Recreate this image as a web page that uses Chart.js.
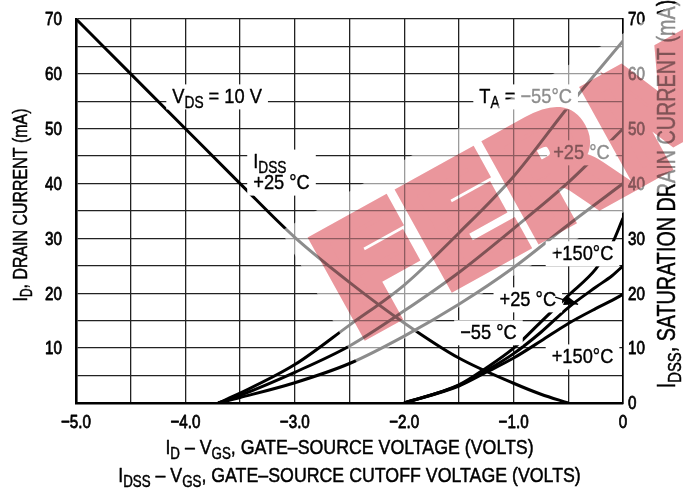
<!DOCTYPE html>
<html>
<head>
<meta charset="utf-8">
<script src="https://cdn.jsdelivr.net/npm/chart.js@4.4.1/dist/chart.umd.min.js"></script>
<style>
  html, body { margin: 0; background: #fff; }
</style>
</head>
<body>
<canvas id="chart" width="683" height="498"></canvas>
<script>
const FONT = '"Liberation Sans", Arial, sans-serif';

// I_DSS vs V_GS(off) at +25 C
const idssVgs = [-5.0, -4.5, -4.0, -3.5, -3.0, -2.5, -2.0, -1.5, -1.0, -0.75, -0.5];
const idssMa  = [70, 60, 50, 40, 30.2, 22, 14.6, 8.2, 3.6, 1.6, 0];

// I_D vs V_GS, device with V_GS(off) = -3.7 V
const hiVgs   = [-3.7, -3.5, -3.0, -2.5, -2.0, -1.5, -1.0, -0.5, 0];
const hiM55   = [0, 1.8, 7.0, 14.2, 21.5, 31.0, 41.3, 54.0, 66.0];
const hiP25   = [0, 1.4, 5.6, 10.4, 16.8, 23.8, 31.8, 40.2, 50.0];
const hiP150  = [0, 1.0, 3.7, 7.2, 12.2, 18.0, 24.7, 32.5, 40.0];

// I_D vs V_GS, device with V_GS(off) = -2.0 V
const loVgs   = [-2.0, -1.5, -1.25, -1.0, -0.75, -0.5, -0.25, -0.1, 0];
const loM55   = [0, 3.3, 6.4, 10.0, 14.8, 19.6, 24.4, 29.0, 33.7];
const loP25   = [0, 3.2, 5.9, 9.0, 12.9, 17.4, 21.1, 23.2, 25.0];
const loP150  = [0, 3.1, 5.6, 8.2, 11.3, 14.5, 17.2, 18.7, 19.8];

// tick labels
const xTickVals   = [-5, -4, -3, -2, -1, 0];
const xTickLabels = ['\u22125.0', '\u22124.0', '\u22123.0', '\u22122.0', '\u22121.0', '0'];
const yTickVals   = [0, 10, 20, 30, 40, 50, 60, 70];

const pts = (xs, ys) => xs.map((x, i) => ({ x: x, y: ys[i] }));

// text notes on the plot: [text, isSubscript] parts per line
const notes = [
  { x: -3.71, y: 55.8, align: 'center', lines: [[['V', 0], ['DS', 1], [' = 10 V', 0]]] },
  { x: -3.38, y: 42.0, align: 'left', lines: [[['I', 0], ['DSS', 1]], [['+25 \u00B0C', 0]]] },
  { x: -0.89, y: 55.8, align: 'center', lines: [[['T', 0], ['A', 1], [' = \u221255\u00B0C', 0]]] },
  { x: -0.38, y: 45.6, align: 'center', lines: [[['+25 \u00B0C', 0]]] },
  { x: -0.37, y: 27.2, align: 'center', lines: [[['+150\u00B0C', 0]]] },
  { x: -0.87, y: 18.8, align: 'center', lines: [[['+25 \u00B0C', 0]]] },
  { x: -1.23, y: 12.8, align: 'center', lines: [[['\u221255 \u00B0C', 0]]] },
  { x: -0.37, y: 8.4, align: 'center', lines: [[['+150\u00B0C', 0]]] }
];

const NOTE_SIZE = 21;
const NOTE_SX = 0.87;

function partsWidth(ctx, parts, size, sx) {
  let w = 0;
  parts.forEach(([t, sub]) => {
    ctx.font = (sub ? size * 0.75 : size) + 'px ' + FONT;
    w += ctx.measureText(t).width;
  });
  return w * sx;
}

// draws text runs with subscripts, squeezed horizontally by sx and slightly emboldened
function drawParts(ctx, parts, x, y, size, sx, bold) {
  ctx.save();
  ctx.translate(x, y);
  ctx.scale(sx, 1);
  ctx.textAlign = 'left';
  ctx.textBaseline = 'middle';
  ctx.strokeStyle = ctx.fillStyle;
  ctx.lineWidth = bold || 0.5;
  ctx.lineJoin = 'round';
  let cx = 0;
  parts.forEach(([t, sub]) => {
    ctx.font = (sub ? size * 0.75 : size) + 'px ' + FONT;
    const ty = sub ? size * 0.3 : 0;
    ctx.fillText(t, cx, ty);
    ctx.strokeText(t, cx, ty);
    cx += ctx.measureText(t).width;
  });
  ctx.restore();
}

const notesPlugin = {
  id: 'notes',
  afterDatasetsDraw(chart) {
    const ctx = chart.ctx;
    const xs = chart.scales.x, ys = chart.scales.y;
    ctx.save();
    notes.forEach(n => {
      const px = xs.getPixelForValue(n.x);
      const py = ys.getPixelForValue(n.y);
      const lh = NOTE_SIZE;
      const widths = n.lines.map(l => partsWidth(ctx, l, NOTE_SIZE, NOTE_SX));
      const wMax = Math.max(...widths);
      const h = lh * n.lines.length;
      const left = n.align === 'left' ? px : px - wMax / 2;
      ctx.fillStyle = '#fff';
      ctx.fillRect(left - 6, py - h / 2 - 2, wMax + 12, h + 4);
      ctx.fillStyle = '#000';
      n.lines.forEach((l, i) => {
        const lx = n.align === 'left' ? px : px - widths[i] / 2;
        drawParts(ctx, l, lx, py - h / 2 + lh * (i + 0.5), NOTE_SIZE, NOTE_SX, 0.4);
      });
    });

    // leader arrow from the lower "+25 C" note to its curve
    const a0x = xs.getPixelForValue(-0.62), a0y = ys.getPixelForValue(19.3);
    const a1x = xs.getPixelForValue(-0.41), a1y = ys.getPixelForValue(18.0);
    const ang = Math.atan2(a1y - a0y, a1x - a0x);
    ctx.strokeStyle = '#000';
    ctx.lineWidth = 1.3;
    ctx.beginPath();
    ctx.moveTo(a0x, a0y);
    ctx.lineTo(a1x, a1y);
    ctx.stroke();
    ctx.beginPath();
    ctx.moveTo(a1x, a1y);
    ctx.lineTo(a1x - 15 * Math.cos(ang - 0.35), a1y - 15 * Math.sin(ang - 0.35));
    ctx.lineTo(a1x - 15 * Math.cos(ang + 0.35), a1y - 15 * Math.sin(ang + 0.35));
    ctx.closePath();
    ctx.fillStyle = '#000';
    ctx.fill();
    ctx.restore();
  },
  afterDraw(chart) {
    const ctx = chart.ctx;
    const area = chart.chartArea;
    const xs = chart.scales.x, ys = chart.scales.y;
    const cx = (area.left + area.right) / 2;
    ctx.save();
    ctx.fillStyle = '#000';

    // tick labels
    const TS = 19, TSX = 0.8;
    xTickVals.forEach((v, i) => {
      const p = [[xTickLabels[i], 0]];
      const w = partsWidth(ctx, p, TS, TSX);
      drawParts(ctx, p, xs.getPixelForValue(v) - w / 2, area.bottom + 20, TS, TSX, 0.8);
    });
    yTickVals.forEach(v => {
      const p = [[String(v), 0]];
      const py = ys.getPixelForValue(v) + 1;
      if (v !== 0) {
        drawParts(ctx, p, area.left - 14 - partsWidth(ctx, p, TS, TSX), py, TS, TSX, 0.8);
      }
      drawParts(ctx, p, area.right + 5, py, TS, TSX, 0.8);
    });

    // x axis titles
    const t1 = [['I', 0], ['D', 1], [' \u2013 V', 0], ['GS', 1], [', GATE\u2013SOURCE VOLTAGE (VOLTS)', 0]];
    const t2 = [['I', 0], ['DSS', 1], [' \u2013 V', 0], ['GS', 1], [', GATE\u2013SOURCE CUTOFF VOLTAGE (VOLTS)', 0]];
    drawParts(ctx, t1, cx - partsWidth(ctx, t1, 21, 0.846) / 2, 448, 21, 0.846);
    drawParts(ctx, t2, cx - partsWidth(ctx, t2, 21, 0.846) / 2, 476, 21, 0.846);
    // left y title
    const tl = [['I', 0], ['D', 1], [', DRAIN CURRENT (mA)', 0]];
    ctx.save();
    ctx.translate(21, 205);
    ctx.rotate(-Math.PI / 2);
    drawParts(ctx, tl, -partsWidth(ctx, tl, 21, 0.76) / 2, 0, 21, 0.76);
    ctx.restore();
    // right y title
    const tr = [['I', 0], ['DSS', 1], [', SATURATION DRAIN CURRENT (mA)', 0]];
    ctx.save();
    ctx.translate(668, 194);
    ctx.rotate(-Math.PI / 2);
    drawParts(ctx, tr, -partsWidth(ctx, tr, 25, 0.79) / 2, 0, 25, 0.79);
    ctx.restore();
    ctx.restore();

    // watermark stamp over the plot: faded halo, then red lettering
    ctx.save();
    ctx.translate(281, 231);
    ctx.rotate(-Math.PI / 6);
    ctx.fillStyle = 'rgba(255,255,255,0.55)';
    ctx.fillRect(0, 0, 700, 155);
    ctx.restore();

    const off = document.createElement('canvas');
    off.width = chart.width;
    off.height = chart.height;
    const o = off.getContext('2d');
    o.translate(306, 245);
    o.rotate(-29 * Math.PI / 180);
    o.font = 'bold 140px "DejaVu Sans"';
    o.textAlign = 'left';
    o.textBaseline = 'top';
    const w = o.measureText('FERM').width;
    o.scale(455 / w, 1);
    o.fillStyle = 'rgb(234,150,156)';
    o.strokeStyle = 'rgb(234,150,156)';
    o.lineWidth = 16;
    o.lineJoin = 'miter';
    o.fillText('FERM', 0, -2);
    o.strokeText('FERM', 0, -2);
    ctx.save();
    ctx.globalCompositeOperation = 'multiply';
    ctx.drawImage(off, 0, 0);
    ctx.restore();
  }
};

const lineDs = (data) => ({
  data: data,
  borderColor: '#000',
  borderWidth: 3,
  pointRadius: 0,
  fill: false,
  cubicInterpolationMode: 'monotone'
});

const gridOpts = { color: '#222', lineWidth: 1.3, drawTicks: false };
const hidden = { color: 'rgba(0,0,0,0)', font: { size: 12 } };

new Chart(document.getElementById('chart'), {
  type: 'line',
  data: {
    datasets: [
      lineDs(pts(idssVgs, idssMa)),
      lineDs(pts(hiVgs, hiM55)),
      lineDs(pts(hiVgs, hiP25)),
      lineDs(pts(hiVgs, hiP150)),
      lineDs(pts(loVgs, loM55)),
      lineDs(pts(loVgs, loP25)),
      lineDs(pts(loVgs, loP150))
    ]
  },
  options: {
    responsive: false,
    animation: false,
    layout: { padding: { top: 19 } },
    plugins: {
      legend: { display: false },
      tooltip: { enabled: false }
    },
    scales: {
      x: {
        type: 'linear',
        min: -5, max: 0,
        grid: gridOpts,
        border: { color: '#000', width: 2.6 },
        ticks: Object.assign({ stepSize: 0.5, autoSkip: false, maxRotation: 0 }, hidden),
        afterFit: s => { s.height = 95; }
      },
      y: {
        min: 0, max: 70,
        grid: gridOpts,
        border: { color: '#000', width: 2.6 },
        ticks: Object.assign({ stepSize: 5 }, hidden),
        afterFit: s => { s.width = 76; }
      },
      y2: {
        position: 'right',
        min: 0, max: 70,
        grid: { display: false },
        border: { color: '#000', width: 1.6 },
        ticks: Object.assign({ stepSize: 10 }, hidden),
        afterFit: s => { s.width = 60; }
      }
    }
  },
  plugins: [notesPlugin]
});
</script>
</body>
</html>
